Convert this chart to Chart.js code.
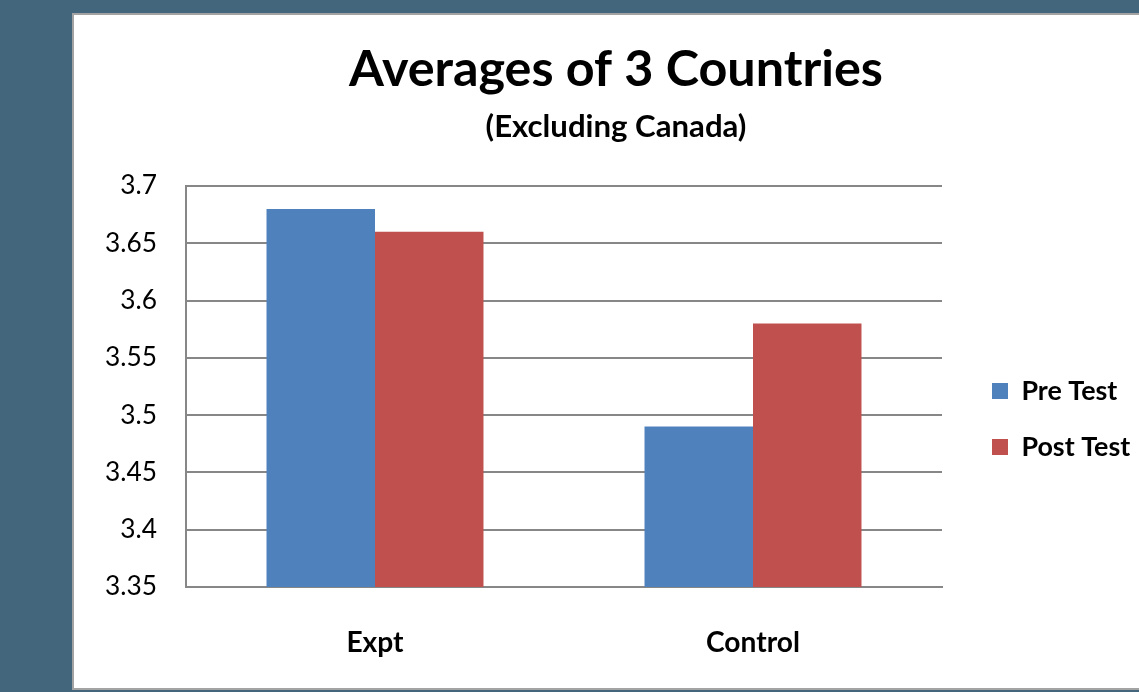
<!DOCTYPE html>
<html><head><meta charset="utf-8">
<script src="https://cdn.jsdelivr.net/npm/chart.js@4.4.0/dist/chart.umd.min.js"></script>
<style>
html,body{margin:0;padding:0;width:1139px;height:692px;overflow:hidden;background:#44667d;}
#panel{position:absolute;left:72px;top:13px;width:1090px;height:677px;box-sizing:border-box;background:#fff;border:2px solid #a3a3a3;}
#c{position:absolute;left:0;top:0;}
</style></head><body>
<div id="panel"></div>
<canvas id="c" width="1139" height="692"></canvas>
<script>
// ---- data ----
const categories = ['Expt', 'Control'];
const seriesNames = ['Pre Test', 'Post Test'];
const preTest = [3.68, 3.49];
const postTest = [3.66, 3.58];
const yTickValues = [3.35, 3.4, 3.45, 3.5, 3.55, 3.6, 3.65, 3.7];
const yTickLabels = ['3.35', '3.4', '3.45', '3.5', '3.55', '3.6', '3.65', '3.7'];
const titleText = 'Averages of 3 Countries';
const subtitleText = '(Excluding Canada)';

// ---- layout helpers ----
const FAMILY = 'Lato';
const mctx = document.createElement('canvas').getContext('2d');
function fitSize(text, weight, width) {
  mctx.font = weight + ' 100px ' + FAMILY;
  return 100 * width / mctx.measureText(text).width;
}
function textW(text, weight, size) {
  mctx.font = weight + ' ' + size + 'px ' + FAMILY;
  return mctx.measureText(text).width;
}
const sTitle = fitSize(titleText, 'bold', 534);
const sSub = fitSize(subtitleText, 'bold', 261);
const sTick = fitSize('3.65', 'normal', 52);
const sCat = fitSize('Control', 'bold', 94);
const sLeg = fitSize('Pre Test', 'bold', 96);

const AREA = {left: 186, right: 942, top: 186, bottom: 587};
const titleCenterX = 616;
const titleMid = 70, subMid = 127;
const titlePadTop = titleMid - 0.6 * sTitle;
const titleBottom = titleMid + 0.6 * sTitle;
const subPadTop = subMid - 0.6 * sSub - titleBottom;
const subPadBottom = AREA.top - (subMid + 0.6 * sSub);

const legBox = 16;
const legPad = 56 - sLeg;
const legW = legPad + legBox + sLeg / 2 + Math.max(...seriesNames.map(n => textW(n, 'bold', sLeg))) + 10;
const padR = 1139 - AREA.right - legW;
const padL = 80;
const xAxisH = 80;
const padB = 692 - AREA.bottom - xAxisH;

const GRID = '#878787';

const placeBoxes = {
  id: 'placeBoxes',
  afterLayout(chart) {
    // centre title and subtitle over the panel as in the reference
    chart.boxes.forEach(b => {
      if (b.options && b.options.text !== undefined && typeof b._drawArgs === 'function') {
        const w = b.right - b.left;
        b.left = titleCenterX - w / 2;
        b.right = titleCenterX + w / 2;
      }
    });
    const lg = chart.legend;
    if (!lg || !lg.columnSizes) return;
    const p = lg.options.labels.padding;
    const dx = (992 - p) - lg.left;
    lg.left += dx; lg.right += dx;
    const h = lg.bottom - lg.top;
    const colH = lg.columnSizes[0].height;
    const target = 391 - sLeg / 2;
    const newTop = target - (h + p - colH) / 2;
    lg.top = newTop; lg.bottom = newTop + h;
  }
};

Chart.defaults.font.family = FAMILY;
Chart.defaults.color = '#000';

new Chart(document.getElementById('c'), {
  type: 'bar',
  data: {
    labels: categories,
    datasets: [
      {label: seriesNames[0], data: preTest, backgroundColor: '#4F81BD', borderWidth: 0},
      {label: seriesNames[1], data: postTest, backgroundColor: '#C0504D', borderWidth: 0}
    ]
  },
  options: {
    responsive: false,
    animation: false,
    datasets: {bar: {categoryPercentage: 0.574, barPercentage: 1.0}},
    layout: {padding: {left: padL, right: padR, top: 0, bottom: padB}},
    plugins: {
      title: {display: true, text: titleText, color: '#000',
        font: {size: sTitle, weight: 'bold', lineHeight: 1.2},
        padding: {top: titlePadTop, bottom: 0}},
      subtitle: {display: true, text: subtitleText, color: '#000',
        font: {size: sSub, weight: 'bold', lineHeight: 1.2},
        padding: {top: subPadTop, bottom: subPadBottom}},
      legend: {display: true, position: 'right', align: 'center',
        labels: {boxWidth: legBox, boxHeight: legBox, padding: legPad, color: '#000',
          font: {size: sLeg, weight: 'bold'}}},
      tooltip: {enabled: false}
    },
    scales: {
      x: {
        grid: {display: false, drawTicks: false},
        border: {display: true, color: GRID, width: 2},
        ticks: {padding: 39, font: {size: sCat, weight: 'bold'}, color: '#000'},
        afterFit(scale) { scale.height = xAxisH; }
      },
      y: {
        min: 3.35, max: 3.7,
        grid: {color: GRID, lineWidth: 2, drawTicks: false},
        border: {display: true, color: GRID, width: 2},
        ticks: {padding: 29, font: {size: sTick}, color: '#000',
          callback: (v, i) => yTickLabels[i]},
        afterBuildTicks(scale) { scale.ticks = yTickValues.map(v => ({value: v})); },
        afterFit(scale) { scale.width = AREA.left - padL; }
      }
    }
  },
  plugins: [placeBoxes]
});
</script>
</body></html>
